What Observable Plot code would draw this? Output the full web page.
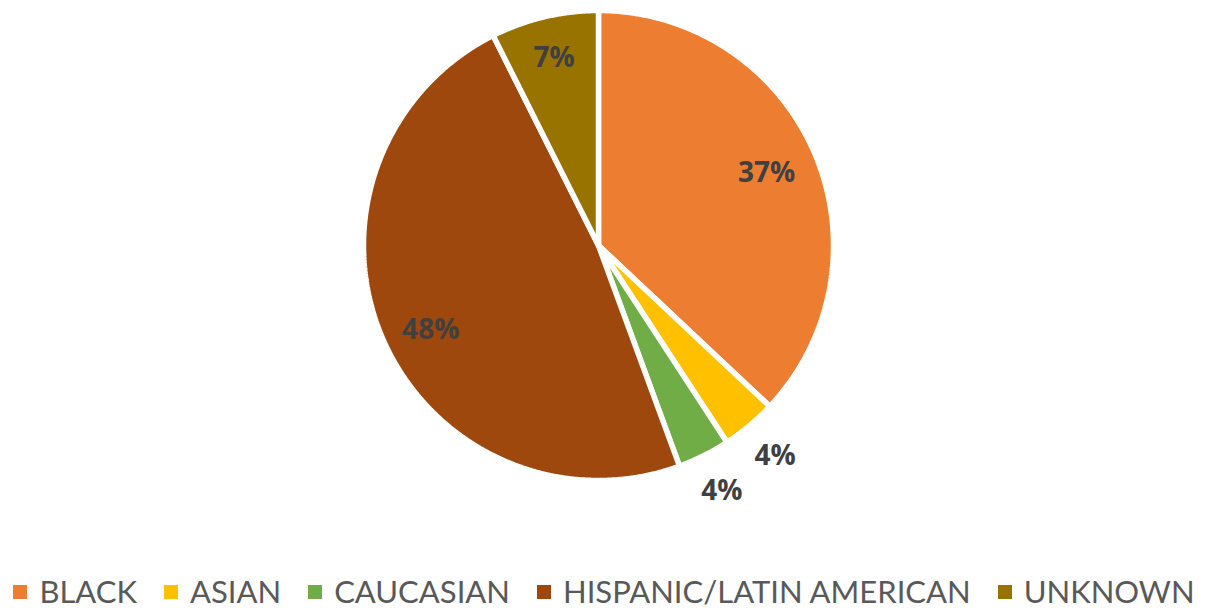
<!DOCTYPE html>
<html>
<head>
<meta charset="utf-8">
<script src="https://cdn.jsdelivr.net/npm/d3@7"></script>
<script src="https://cdn.jsdelivr.net/npm/@observablehq/plot@0.6"></script>
<style>
  html, body { margin: 0; padding: 0; background: #fff; }
  #chart { width: 1208px; height: 611px; position: relative; overflow: hidden; }
  #legend { position: absolute; left: 0; width: 1208px; bottom: 1px;
    display: flex; justify-content: center; align-items: center; gap: 27px;
    font-family: Lato, sans-serif; font-size: 31px; color: #595959; white-space: nowrap; line-height: normal; }
  .item { display: flex; align-items: center; gap: 12px; }
  .sw { width: 14px; height: 14px; display: inline-block; margin-top: 2px; }
</style>
</head>
<body>
<div id="chart"></div>
<script>
const categories = ["BLACK", "ASIAN", "CAUCASIAN", "HISPANIC/LATIN AMERICAN", "UNKNOWN"];
const values = [37.0, 3.8, 3.6, 48.2, 7.4];
const colors = ["#ED7D31", "#FFC000", "#70AD47", "#9E480E", "#997300"];

const data = categories.map((c, i) => ({category: c, value: values[i]}));
const total = d3.sum(values);
const arcs = d3.pie().sort(null).value(d => d.value)(data);

// polygon outline of each slice (angle 0 at top, clockwise)
const pts = [];
for (const a of arcs) {
  const c = a.data.category;
  pts.push({category: c, x: 0, y: 0});
  const n = Math.max(2, Math.ceil((a.endAngle - a.startAngle) / 0.005));
  for (let k = 0; k <= n; k++) {
    const t = a.startAngle + (a.endAngle - a.startAngle) * k / n;
    pts.push({category: c, x: Math.sin(t), y: Math.cos(t)});
  }
  pts.push({category: c, x: 0, y: 0});
}

const labels = arcs.map(a => {
  const pct = a.data.value / total * 100;
  // large slice label sits slightly below its mid-angle, as in the source
  const mid = (a.startAngle + a.endAngle) / 2 - (pct > 40 ? 0.06 : 0);
  const r = pct < 5 ? 1.17 : (pct > 40 ? 0.8 : (pct < 10 ? 0.82 : 0.78));
  return {x: r * Math.sin(mid), y: r * Math.cos(mid), text: Math.round(pct) + "%"};
});

const R = 235;
const cx = 598, cy = 245, H = 562;
const plot = Plot.plot({
  width: 1208,
  height: H,
  marginLeft: cx - R,
  marginRight: 1208 - (cx + R),
  marginTop: cy - R,
  marginBottom: H - (cy + R),
  x: {domain: [-1, 1], axis: null},
  y: {domain: [-1, 1], axis: null},
  color: {domain: categories, range: colors},
  style: {background: "#fff"},
  marks: [
    Plot.line(pts, {x: "x", y: "y", z: "category", fill: "category", stroke: "#fff", strokeWidth: 5.5, curve: "linear", strokeLinejoin: "miter"}),
    Plot.text(labels, {x: "x", y: "y", text: "text", fill: "#404040", fontSize: 28, fontWeight: "bold", fontFamily: "Open Sans, sans-serif"})
  ]
});
plot.style.display = "block";
document.getElementById("chart").appendChild(plot);

const legend = document.createElement("div");
legend.id = "legend";
categories.forEach((c, i) => {
  const it = document.createElement("span");
  it.className = "item";
  const sw = document.createElement("span");
  sw.className = "sw";
  sw.style.background = colors[i];
  const tx = document.createElement("span");
  tx.textContent = c;
  it.appendChild(sw); it.appendChild(tx);
  legend.appendChild(it);
});
document.getElementById("chart").appendChild(legend);
</script>
</body>
</html>
